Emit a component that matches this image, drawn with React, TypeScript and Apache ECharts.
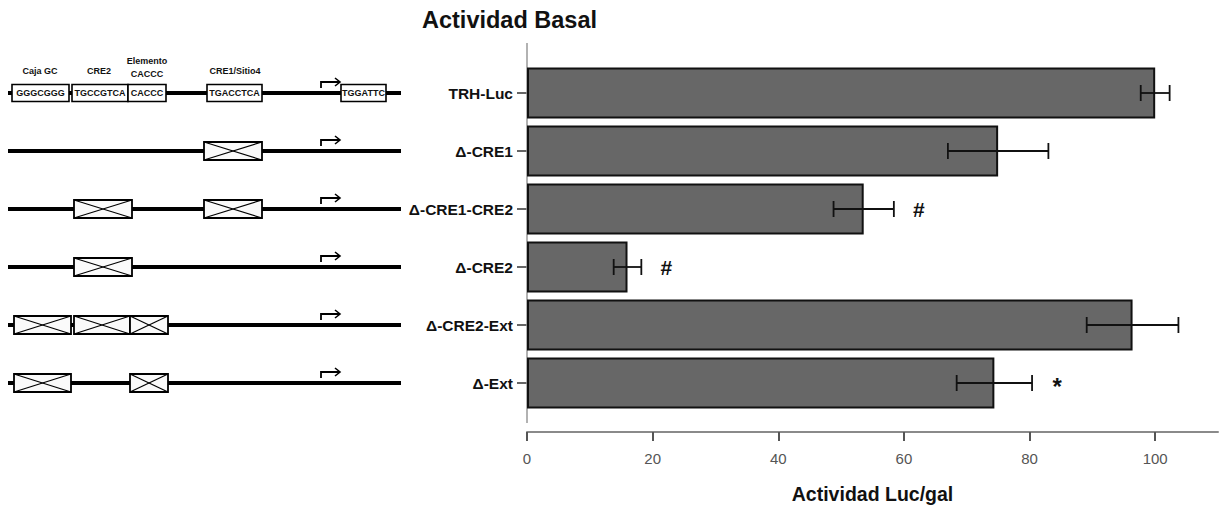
import React, { useEffect, useRef } from "react";
import * as echarts from "echarts";

// ---- data ----
const categories = ["TRH-Luc", "Δ-CRE1", "Δ-CRE1-CRE2", "Δ-CRE2", "Δ-CRE2-Ext", "Δ-Ext"];
const values = [100, 75.0, 53.6, 16.0, 96.4, 74.4];
const errors = [2.3, 8.0, 4.8, 2.2, 7.3, 6.0];
const marks = ["", "", "#", "#", "", "*"];
const xTicks = [0, 20, 40, 60, 80, 100];
const xMax = 110;

// ---- construct diagrams (layout, pixels) ----
const wtBoxes = [
  { x: 12, w: 57, t: "GGGCGGG" },
  { x: 72, w: 56, t: "TGCCGTCA" },
  { x: 128, w: 38, t: "CACCC" },
  { x: 207, w: 55, t: "TGACCTCA" },
  { x: 341, w: 45, t: "TGGATTC" },
];
const crossedRows = [
  [],
  [{ x: 204, w: 58 }],
  [{ x: 74, w: 58 }, { x: 204, w: 58 }],
  [{ x: 74, w: 58 }],
  [{ x: 14, w: 57 }, { x: 74, w: 56 }, { x: 130, w: 38 }],
  [{ x: 14, w: 57 }, { x: 130, w: 38 }],
];
const headers = [
  { t: "Caja GC", x: 40, dy: -22 },
  { t: "CRE2", x: 99, dy: -22 },
  { t: "Elemento", x: 147, dy: -32 },
  { t: "CACCC", x: 147, dy: -19 },
  { t: "CRE1/Sitio4", x: 235, dy: -22 },
];

const FONT = "'Liberation Sans', Arial, sans-serif";
const NARROW = "'Liberation Sans Narrow', 'Liberation Sans', Arial, sans-serif";

export default function App() {
  const ref = useRef<HTMLDivElement>(null);

  useEffect(() => {
    if (!ref.current) return;
    const chart = echarts.init(ref.current, null, { renderer: "svg" });

    const errData = categories.map((_, i) => [i, values[i] - errors[i], values[i] + errors[i]]);

    chart.setOption({
      animation: false,
      backgroundColor: "#ffffff",
      title: {
        text: "Actividad Basal",
        left: 422,
        top: 8,
        padding: 0,
        textStyle: { fontFamily: FONT, fontWeight: "bold", fontSize: 23.5, color: "#111" },
      },
      grid: { left: 527, right: 7, top: 64, bottom: 102, outerBoundsMode: "none", containLabel: false },
      xAxis: {
        type: "value",
        min: 0,
        max: xMax,
        interval: 20,
        offset: 20,
        axisLine: { show: true, lineStyle: { color: "#8a8a8a", width: 2 } },
        axisTick: { show: true, length: 9, customValues: xTicks, lineStyle: { color: "#555", width: 2 } },
        axisLabel: { customValues: xTicks, margin: 19, color: "#555", fontSize: 15, fontFamily: NARROW },
        splitLine: { show: false },
        name: "Actividad Luc/gal",
        nameLocation: "middle",
        nameGap: 52,
        nameTextStyle: { fontFamily: FONT, fontWeight: "bold", fontSize: 19.5, color: "#111" },
      },
      yAxis: {
        type: "category",
        data: categories,
        inverse: true,
        axisLine: { show: false },
        axisTick: { show: true, alignWithLabel: true, length: 10, lineStyle: { color: "#333", width: 1.5 } },
        axisLabel: { margin: 14, fontWeight: "bold", fontSize: 15.5, color: "#111", fontFamily: FONT },
      },
      series: [
        {
          type: "bar",
          data: values,
          barWidth: 51,
          itemStyle: { color: "#676767", borderColor: "#111", borderWidth: 2 },
        },
        {
          type: "custom",
          data: errData,
          encode: { x: [1, 2], y: 0 },
          z: 10,
          renderItem: (params: any, api: any) => {
            const idx = api.value(0);
            const lo = api.coord([api.value(1), idx]);
            const hi = api.coord([api.value(2), idx]);
            const y = lo[1];
            const c = 8;
            const st = { stroke: "#111", lineWidth: 1.8 };
            const children: any[] = [
              { type: "line", shape: { x1: lo[0], y1: y, x2: hi[0], y2: y }, style: st },
              { type: "line", shape: { x1: lo[0], y1: y - c, x2: lo[0], y2: y + c }, style: st },
              { type: "line", shape: { x1: hi[0], y1: y - c, x2: hi[0], y2: y + c }, style: st },
            ];
            const m = marks[params.dataIndex];
            if (m) {
              children.push({
                type: "text",
                style: {
                  text: m,
                  x: hi[0] + 25,
                  y: y + (m === "*" ? 3 : 0),
                  align: "center",
                  verticalAlign: "middle",
                  font: `bold ${m === "*" ? 24 : 21}px ${FONT}`,
                  fill: "#111",
                },
              });
            }
            return { type: "group", children };
          },
        },
      ],
    });

    // y axis line (drawn longer than the category band, as in the reference)
    const graphic: any[] = [
      { type: "line", shape: { x1: 527, y1: 43, x2: 527, y2: 423 }, style: { stroke: "#999", lineWidth: 1.5 }, z: 1 },
    ];

    categories.forEach((cat, r) => {
      const y = chart.convertToPixel({ yAxisIndex: 0 } as any, cat as any) as number;
      graphic.push({ type: "line", shape: { x1: 8, y1: y, x2: 401, y2: y }, style: { stroke: "#000", lineWidth: 4 }, z: 1 });
      // promoter arrow
      graphic.push({
        type: "polyline",
        shape: { points: [[321, y - 5], [321, y - 11], [340, y - 11]] },
        style: { stroke: "#000", lineWidth: 1.8, fill: null },
        z: 2,
      });
      graphic.push({
        type: "polyline",
        shape: { points: [[335, y - 15], [340, y - 11], [335, y - 7]] },
        style: { stroke: "#000", lineWidth: 1.6, fill: null },
        z: 2,
      });
      if (r === 0) {
        wtBoxes.forEach((b) => {
          graphic.push({
            type: "rect",
            shape: { x: b.x, y: y - 8.5, width: b.w, height: 17 },
            style: { fill: "#fff", stroke: "#000", lineWidth: 1.6 },
            z: 3,
          });
          graphic.push({
            type: "text",
            x: b.x + b.w / 2,
            y: y,
            style: { text: b.t, font: `bold 9px ${FONT}`, fill: "#111", align: "center", verticalAlign: "middle" },
            z: 4,
          });
        });
        headers.forEach((h) => {
          graphic.push({
            type: "text",
            x: h.x,
            y: y + h.dy,
            style: { text: h.t, font: `bold 9px ${FONT}`, fill: "#111", align: "center", verticalAlign: "middle" },
            z: 4,
          });
        });
      }
      crossedRows[r].forEach((b) => {
        const top = y - 9;
        const bot = y + 9;
        graphic.push({
          type: "rect",
          shape: { x: b.x, y: top, width: b.w, height: 18 },
          style: { fill: "#fafafa", stroke: "#000", lineWidth: 1.8 },
          z: 3,
        });
        graphic.push({
          type: "line",
          shape: { x1: b.x, y1: top, x2: b.x + b.w, y2: bot },
          style: { stroke: "#000", lineWidth: 1.2 },
          z: 4,
        });
        graphic.push({
          type: "line",
          shape: { x1: b.x, y1: bot, x2: b.x + b.w, y2: top },
          style: { stroke: "#000", lineWidth: 1.2 },
          z: 4,
        });
      });
    });

    chart.setOption({ graphic });

    return () => chart.dispose();
  }, []);

  return (
    <div
      ref={ref}
      style={{ position: "fixed", left: 0, top: 0, width: 1225, height: 514, background: "#fff" }}
    />
  );
}
